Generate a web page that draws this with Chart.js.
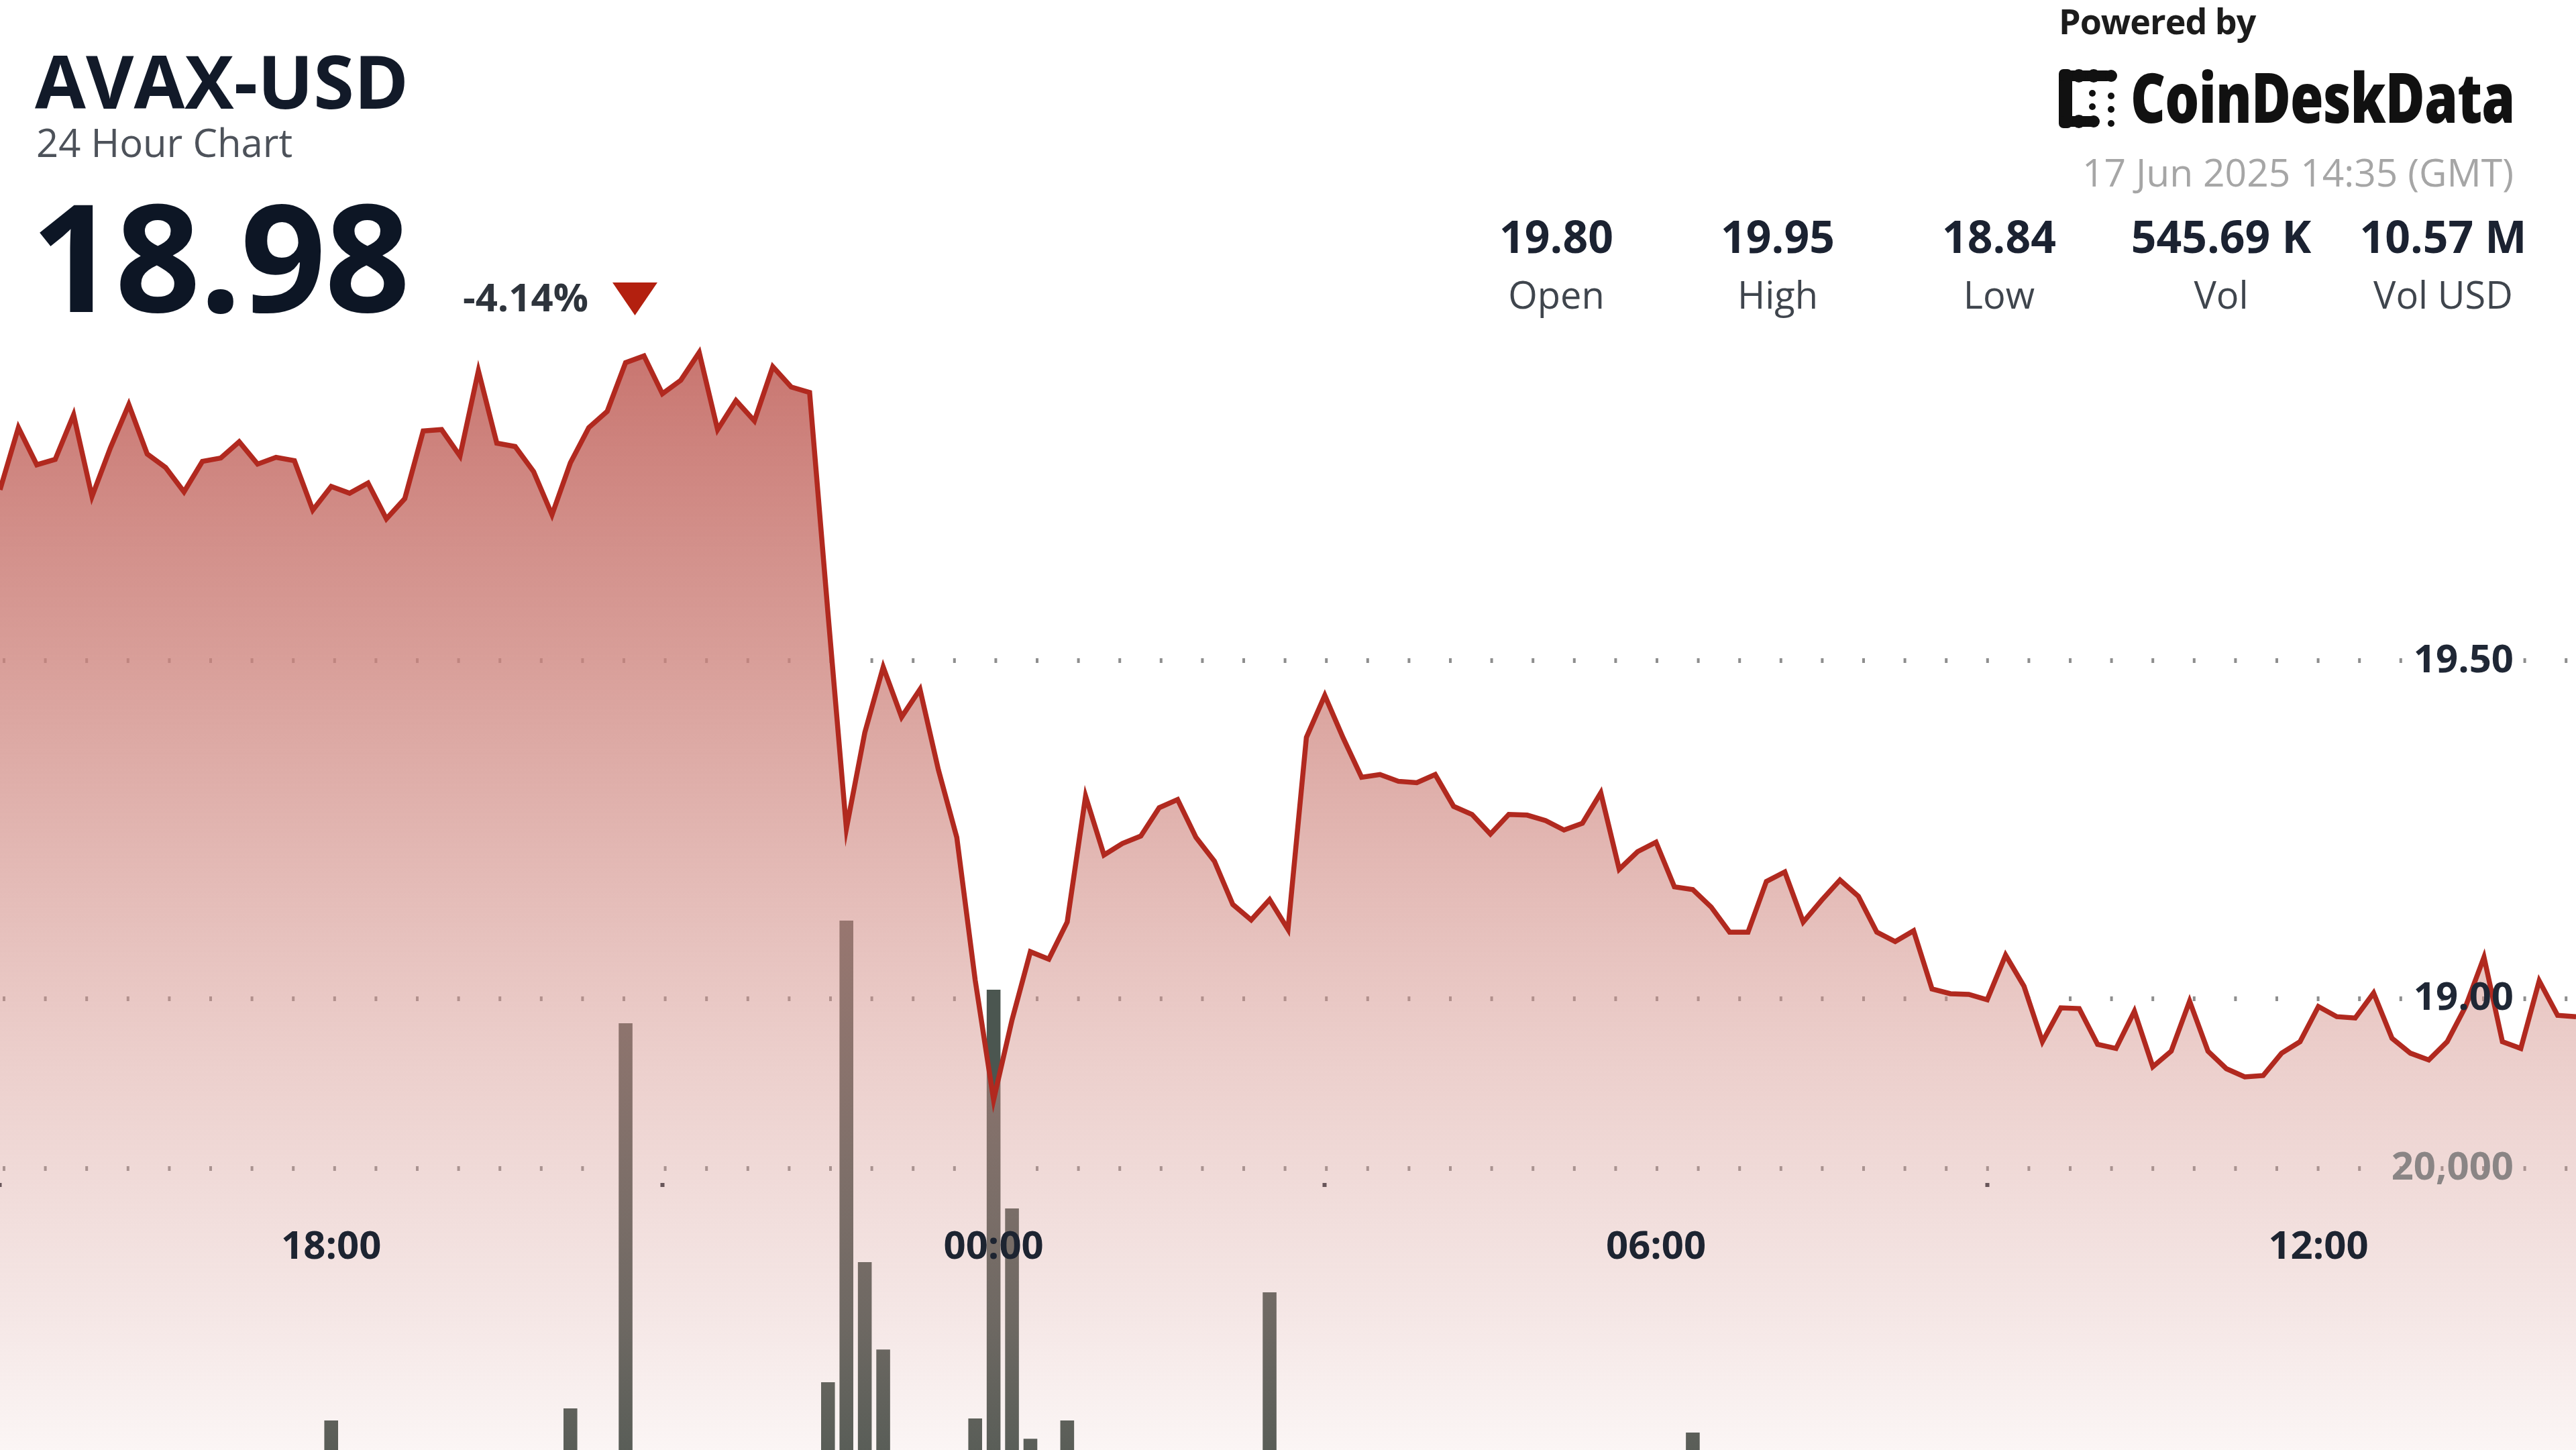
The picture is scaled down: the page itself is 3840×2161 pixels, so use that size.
<!DOCTYPE html>
<html>
<head>
<meta charset="utf-8">
<title>AVAX-USD 24 Hour Chart</title>
<script src="https://cdn.jsdelivr.net/npm/chart.js@4.4.1/dist/chart.umd.min.js"></script>
<style>
  html, body { margin: 0; padding: 0; background: #fff; overflow: hidden; }
  #page { position: relative; width: 3840px; height: 2161px; overflow: hidden; font-family: 'Open Sans', sans-serif; }
  #chartBox { position: absolute; left: 0; top: 0; width: 3840px; height: 2161px; }
  .txt { position: absolute; white-space: nowrap; line-height: 1; z-index: 2; }
  #title { left: 52px; top: 64px; font-size: 110px; font-weight: 700; color: #121a29; }
  #sub { left: 54px; top: 183px; font-size: 58px; color: #4d525a; }
  #last { left: 46px; top: 267px; font-size: 223px; font-weight: 700; color: #0d1625; letter-spacing: -2px; }
  #change { left: 690px; top: 413px; font-size: 58px; font-weight: 700; color: #2e343c; }
  #tri { position: absolute; left: 913px; top: 421px; z-index: 2; }
  #powered { left: 3069px; top: 5px; font-size: 52px; font-weight: 700; color: #1c1c1c; letter-spacing: -1px; }
  #logoIcon { position: absolute; left: 3069px; top: 103px; z-index: 2; }
  #logoText { left: 3176px; top: 93px; font-size: 102px; font-weight: 800; color: #111; transform: scaleX(0.787); transform-origin: left top; letter-spacing: -1px; }
  #stamp { right: 93px; top: 228px; font-size: 57px; color: #a6a6a6; }
  .statVal { top: 318px; width: 320px; text-align: center; font-size: 66px; font-weight: 700; color: #1b2231; }
  .statLab { top: 410px; width: 320px; text-align: center; font-size: 56px; color: #3f454d; }
</style>
</head>
<body>
<div id="page">
  <div id="chartBox"><canvas id="myChart"></canvas></div>

  <div class="txt" id="title">AVAX-USD</div>
  <div class="txt" id="sub">24 Hour Chart</div>
  <div class="txt" id="last">18.98</div>
  <div class="txt" id="change">-4.14%</div>
  <svg id="tri" width="67" height="49" viewBox="0 0 67 49"><polygon points="0,0 67,0 33.5,49" fill="#b3200f"/></svg>

  <div class="txt" id="powered">Powered by</div>
  <svg id="logoIcon" width="90" height="88" viewBox="0 0 90 88">
    <g fill="#111">
      <rect x="0" y="0" width="20" height="88" rx="7"/>
      <rect x="0" y="2" width="80" height="16" rx="8"/>
      <rect x="0" y="70" width="60" height="16" rx="8"/>
      <circle cx="30" cy="10" r="10"/><circle cx="52" cy="10" r="10"/><circle cx="78" cy="10" r="9"/>
      <circle cx="30" cy="78" r="10"/><circle cx="52" cy="78" r="9"/>
      <circle cx="50" cy="36" r="5"/><circle cx="50" cy="56" r="5"/>
      <circle cx="78" cy="40" r="5"/><circle cx="78" cy="60" r="5"/><circle cx="78" cy="81" r="5"/>
    </g>
  </svg>
  <div class="txt" id="logoText">CoinDeskData</div>
  <div class="txt" id="stamp">17 Jun 2025 14:35 (GMT)</div>
</div>

<script>
// 10-minute AVAX-USD prices, 16 Jun 15:00 -> 17 Jun 14:20 (GMT)
const price = [
  19.753, 19.845, 19.790, 19.798, 19.864, 19.743, 19.815, 19.879, 19.806, 19.786,
  19.750, 19.795, 19.800, 19.824, 19.791, 19.801, 19.796, 19.723, 19.758, 19.748,
  19.763, 19.710, 19.740, 19.840, 19.842, 19.803, 19.929, 19.822, 19.817, 19.780,
  19.716, 19.793, 19.845, 19.869, 19.941, 19.951, 19.895, 19.915, 19.956, 19.842,
  19.885, 19.855, 19.935, 19.905, 19.897, 19.570, 19.252, 19.394, 19.491, 19.417,
  19.458, 19.339, 19.239, 19.028, 18.851, 18.969, 19.070, 19.059, 19.114, 19.300,
  19.213, 19.230, 19.241, 19.283, 19.295, 19.239, 19.204, 19.140, 19.117, 19.147,
  19.103, 19.387, 19.449, 19.386, 19.328, 19.332, 19.322, 19.320, 19.332, 19.285,
  19.273, 19.244, 19.273, 19.272, 19.264, 19.250, 19.260, 19.305, 19.192, 19.218,
  19.232, 19.166, 19.162, 19.136, 19.099, 19.099, 19.174, 19.188, 19.114, 19.146,
  19.176, 19.152, 19.099, 19.085, 19.101, 19.015, 19.008, 19.007, 18.999, 19.065,
  19.019, 18.937, 18.987, 18.986, 18.933, 18.927, 18.982, 18.900, 18.923, 18.997,
  18.923, 18.897, 18.885, 18.887, 18.920, 18.937, 18.989, 18.974, 18.972, 19.009,
  18.942, 18.920, 18.910, 18.937, 18.989, 19.062, 18.937, 18.927, 19.027, 18.976,
  18.974
];

// volume per 10 minutes (AVAX); only the spikes reach into the picture
const volume = [
  2100, 3400, 1800, 2600, 3900, 2900, 2300, 4100, 2700, 1900,
  2500, 3100, 2000, 2800, 2200, 1700, 2400, 3600, 6840, 2900,
  2100, 3800, 2600, 4400, 2300, 3100, 4700, 3500, 2400, 2000,
  4200, 7470, 3300, 4600, 27580, 3900, 2800, 3600, 2500, 4300,
  3000, 2700, 4100, 2900, 3200, 8840, 32940, 15110, 10550, 4900,
  3700, 4500, 4800, 6950, 29330, 17910, 5890, 4600, 6840, 5000,
  3400, 2800, 2600, 3300, 2900, 2400, 3100, 3800, 3500, 13530,
  4200, 4400, 3600, 3000, 2500, 2200, 1900, 2400, 2700, 2100,
  2600, 1800, 2000, 2300, 1700, 2500, 3200, 2900, 2400, 2100,
  3000, 3300, 6210, 2600, 2800, 2200, 3100, 2400, 2700, 2000,
  1900, 2300, 2600, 2900, 3500, 2800, 2400, 2100, 2500, 3000,
  2700, 2300, 3400, 2600, 2200, 2000, 2400, 3100, 2800, 2500,
  2100, 1800, 2300, 2600, 2900, 2400, 2200, 2700, 3000, 2500,
  2300, 2800, 3200, 2600, 2400, 2900, 3300, 2700, 3600, 2500,
  2200
];

const firstSample = 15 * 60;   // 15:00 on 16 Jun
const stepMinutes = 10;
const times = price.map((_, i) => {
  const m = (firstSample + i * stepMinutes) % 1440;
  return String(Math.floor(m / 60)).padStart(2, '0') + ':' + String(m % 60).padStart(2, '0');
});

const tickLabels = ['18:00', '00:00', '06:00', '12:00'];
const priceTicks = [19.00, 19.50];
const volumeTicks = [20000];

const statValues = ['19.80', '19.95', '18.84', '545.69 K', '10.57 M'];
const statLabels = ['Open', 'High', 'Low', 'Vol', 'Vol USD'];
const statCenters = [2320, 2650, 2980, 3311, 3642];

const page = document.getElementById('page');
statValues.forEach((v, i) => {
  const a = document.createElement('div');
  a.className = 'txt statVal';
  a.style.left = (statCenters[i] - 160) + 'px';
  a.textContent = v;
  page.appendChild(a);
  const b = document.createElement('div');
  b.className = 'txt statLab';
  b.style.left = (statCenters[i] - 160) + 'px';
  b.textContent = statLabels[i];
  page.appendChild(b);
});

Chart.defaults.font.family = "'Open Sans', sans-serif";

const areaFill = (context) => {
  const chart = context.chart;
  const area = chart.chartArea;
  if (!area) return 'rgba(205,130,123,0.5)';
  const g = chart.ctx.createLinearGradient(0, area.top, 0, area.bottom);
  g.addColorStop(0, 'rgba(190,92,85,0.93)');
  g.addColorStop(0.2, 'rgba(192,96,90,0.92)');
  g.addColorStop(0.45, 'rgba(205,130,123,0.78)');
  g.addColorStop(0.72, 'rgba(213,149,142,0.47)');
  g.addColorStop(0.91, 'rgba(215,160,155,0.25)');
  g.addColorStop(1, 'rgba(215,160,155,0.10)');
  return g;
};

const dotted = { display: false, dash: [4, 57.6], dashOffset: -4 };
const axisFont = { family: "'Open Sans', sans-serif", weight: 'bold', size: 58 };

// axes draw inside the plot, so they take no room of their own
const noWidth = (axis) => { axis.width = 0; };
const noHeight = (axis) => { axis.height = 0; };

const ctx = document.getElementById('myChart');

new Chart(ctx, {
  type: 'line',
  data: {
    labels: times,
    datasets: [
      {
        type: 'line',
        data: price,
        yAxisID: 'y',
        order: 0,
        borderColor: '#b1291f',
        borderWidth: 7.5,
        pointRadius: 0,
        tension: 0,
        fill: 'start',
        backgroundColor: areaFill
      },
      {
        type: 'bar',
        data: volume,
        yAxisID: 'vol',
        order: 1,
        backgroundColor: '#4b5650',
        barPercentage: 0.75,
        categoryPercentage: 1
      }
    ]
  },
  options: {
    responsive: true,
    maintainAspectRatio: false,
    animation: false,
    events: [],
    layout: { padding: 0 },
    plugins: {
      legend: { display: false },
      tooltip: { enabled: false }
    },
    scales: {
      x: {
        type: 'category',
        offset: false,
        position: { vol: 20000 },
        afterFit: noHeight,
        grid: {
          display: true,
          drawOnChartArea: false,
          drawTicks: true,
          tickLength: 28,
          tickWidth: 6,
          tickColor: '#2a2f38',
          tickBorderDash: [0, 22, 6, 100]
        },
        border: { display: false },
        ticks: {
          autoSkip: false,
          maxRotation: 0,
          padding: 55,
          z: 1,
          color: '#1d2431',
          font: axisFont,
          callback: function (value) {
            const label = this.getLabelForValue(value);
            return tickLabels.includes(label) ? label : null;
          }
        }
      },
      y: {
        position: 'right',
        min: 18.3333,
        max: 20.4772,
        afterFit: noWidth,
        afterBuildTicks: (axis) => { axis.ticks = priceTicks.map(v => ({ value: v })); },
        grid: { drawTicks: false, color: '#8e8e8e', lineWidth: 7 },
        border: dotted,
        ticks: {
          mirror: true,
          padding: -93,
          z: 1,
          color: '#1f2735',
          font: axisFont,
          callback: (v) => Number(v).toFixed(2)
        }
      },
      vol: {
        position: 'right',
        min: 5300,
        max: 81000,
        afterFit: noWidth,
        afterBuildTicks: (axis) => { axis.ticks = volumeTicks.map(v => ({ value: v })); },
        grid: { drawTicks: false, color: '#8e8e8e', lineWidth: 7 },
        border: dotted,
        ticks: {
          mirror: true,
          padding: -93,
          z: 1,
          color: '#8a8585',
          font: axisFont,
          callback: (v) => Number(v).toLocaleString('en-US')
        }
      }
    }
  }
});
</script>
</body>
</html>
